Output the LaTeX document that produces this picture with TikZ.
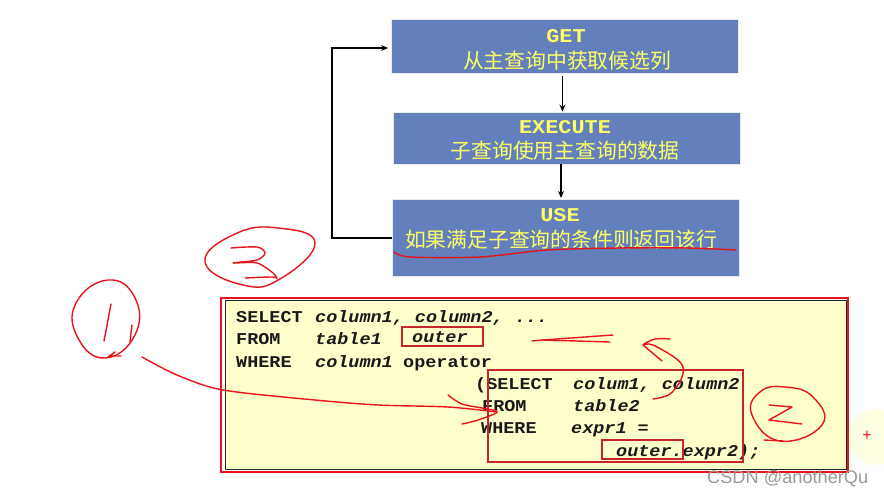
\documentclass[tikz,border=0pt]{standalone}
\usepackage{fontspec}
\usetikzlibrary{arrows.meta}
\setmainfont{Liberation Sans}
\newfontfamily\codefont[FakeStretch=1.12]{Liberation Mono}
\newfontfamily\cjkfont{Noto Sans CJK SC}
\definecolor{flowblue}{HTML}{6480BC}
\definecolor{flowyellow}{HTML}{FFFF66}
\definecolor{codeyellow}{HTML}{FFFFCC}
\definecolor{penred}{HTML}{E8141C}
\definecolor{boxred}{HTML}{C4262C}
\tikzset{
  flowbox/.style={draw=black!8,line width=0.8pt,fill=flowblue,inner sep=0pt},
  flowtitle/.style={text=flowyellow,font=\codefont\fontsize{19.5}{19.5}\selectfont\bfseries,anchor=base,inner sep=0pt},
  flowtext/.style={text=flowyellow,font=\cjkfont\fontsize{20.8}{20.8}\selectfont,anchor=base,inner sep=0pt},
  flowarrow/.style={draw=black,line width=1.3pt,-{Stealth[length=7pt,width=6pt]}},
  code/.style={font=\codefont\fontsize{16.5}{16.5}\selectfont\bfseries,anchor=base west,inner sep=0pt,text=black!90},
  codeit/.style={code,font=\codefont\fontsize{16.5}{16.5}\selectfont\bfseries\itshape},
  markbox/.style={draw=boxred,line width=1.2pt,inner sep=0pt},
  pen/.style={draw=penred,line width=1.4pt,line cap=round,line join=round}
}
\begin{document}
\begin{tikzpicture}[x=1pt,y=-1pt]
  \useasboundingbox (0,0) rectangle (884,497);

  % flow boxes
  \node[flowbox,minimum width=347pt,minimum height=54pt] (get)  at (564.5,46)  {};
  \node[flowbox,minimum width=347pt,minimum height=52pt] (exec) at (566.5,138) {};
  \node[flowbox,minimum width=347pt,minimum height=77pt] (use)  at (565.5,237.5) {};

  \node[flowtitle] (gettitle)  at (566,43)  {GET};
  \node[flowtext]  (gettext)   at (567,69)  {从主查询中获取候选列};
  \node[flowtitle] (exectitle) at (565,134) {EXECUTE};
  \node[flowtext]  (exectext)  at (565,159) {子查询使用主查询的数据};
  \node[flowtitle] (usetitle)  at (560,222) {USE};
  \node[flowtext]  (usetext)   at (561,248) {如果满足子查询的条件则返回该行};

  \coordinate (getdown) at (562.5,76);
  \coordinate (usein) at (561,198);
  \draw[flowarrow] (getdown) -- (getdown |- exec.north);
  \draw[flowarrow] (usein |- exec.south) -- (usein);
  \coordinate (backin) at (388,48);
  \coordinate (backout) at (332,238);
  \draw[flowarrow] (use.west |- backout) -- (backout) -- (backout |- backin) -- (backin);

  % overlay corner
  \node[circle,fill=codeyellow!55,minimum size=56pt,inner sep=0pt] (blob) at (876,437) {};
  \node[text=penred,font=\fontsize{16}{16}\selectfont,inner sep=0pt] (plus) at (867,436) {+};

  % code panel
  \node[draw=penred,line width=1.6pt,minimum width=627pt,minimum height=174pt,inner sep=0pt] (panelred) at (534.5,385) {};
  \node[draw=black!85,fill=codeyellow,line width=1pt,minimum width=621pt,minimum height=168pt,inner sep=0pt] (panel) at (535.5,385) {};

  \node[code]   (sel1)  at (236,322) {SELECT};
  \node[codeit] (cols1) at (315,322) {column1, column2, ...};
  \node[code]   (from1) at (236,344) {FROM};
  \node[codeit] (tab1)  at (315,344) {table1};
  \node[codeit] (out1)  at (412,342) {outer};
  \node[code]   (wh1)   at (236,367) {WHERE};
  \node[codeit] (col1)  at (315,367) {column1};
  \node[code]   (op1)   at (403,367) {operator};
  \node[code]   (sel2)  at (475,389) {(SELECT};
  \node[codeit] (cols2) at (573,389) {colum1, column2};
  \node[code]   (from2) at (482,411) {FROM};
  \node[codeit] (tab2)  at (573,411) {table2};
  \node[code]   (wh2)   at (481,433) {WHERE};
  \node[codeit] (ex1)   at (571,433) {expr1 =};
  \node[codeit] (out2)  at (616,456) {outer.expr2);};

  \node[markbox,minimum width=81pt,minimum height=19pt]  (outbox)  at (442.5,336.5) {};
  \node[markbox,minimum width=255pt,minimum height=92pt] (subbox)  at (615.5,416)   {};
  \node[markbox,minimum width=81pt,minimum height=19pt]  (outbox2) at (642.5,449.5) {};

  % hand drawn marks
  \draw[pen] plot[smooth,tension=0.5] coordinates {(394,252) (410,257) (480,257) (547,250) (620,248) (687,248) (736,250)};

  \draw[pen] plot[smooth cycle,tension=0.8] coordinates {(278,228) (315,243) (280,279) (243,285) (205,262) (235,234)};
  \draw[pen] plot[smooth,tension=0.5] coordinates {(231,248) (257,247) (265,253) (257,260) (233,263) (257,263) (273,273) (277,279) (273,277) (245,278)};

  \draw[pen] plot[smooth cycle,tension=0.8] coordinates {(108,280) (135,298) (135,335) (105,358) (78,338) (76,303)};
  \draw[pen] plot coordinates {(111,304) (104,341)};
  \draw[pen] plot coordinates {(132,325) (130,342)};
  \draw[pen] plot coordinates {(108,357) (115,352) (110,356) (121,356)};

  \draw[pen] plot[smooth,tension=0.5] coordinates {(142,357) (177,375) (223,390) (315,400) (378,405) (448,407) (497,412)};
  \draw[pen] plot[smooth,tension=0.6] coordinates {(448,395) (462,404) (482,408) (497,412) (478,420) (462,424)};

  \draw[pen] plot coordinates {(532,341) (543,340) (613,335)};
  \draw[pen] plot coordinates {(543,340) (610,342)};

  \draw[pen] plot[smooth,tension=0.6] coordinates {(653,399) (670,394) (682,377) (680,362) (653,345) (643,345) (655,339) (670,339)};
  \draw[pen] plot coordinates {(643,345) (662,361)};

  \draw[pen] plot[smooth cycle,tension=0.8] coordinates {(785,387) (813,397) (822,425) (780,441) (752,415) (760,392)};
  \draw[pen] plot coordinates {(769,405) (792,407) (769,420) (802,424)};
  \draw[pen] plot coordinates {(764,440) (783,441)};

  \node[text=black!40,font=\fontsize{18.2}{18.2}\selectfont,anchor=base west,inner sep=0pt] (mark) at (707,483) {CSDN @anotherQu};
\end{tikzpicture}
\end{document}
